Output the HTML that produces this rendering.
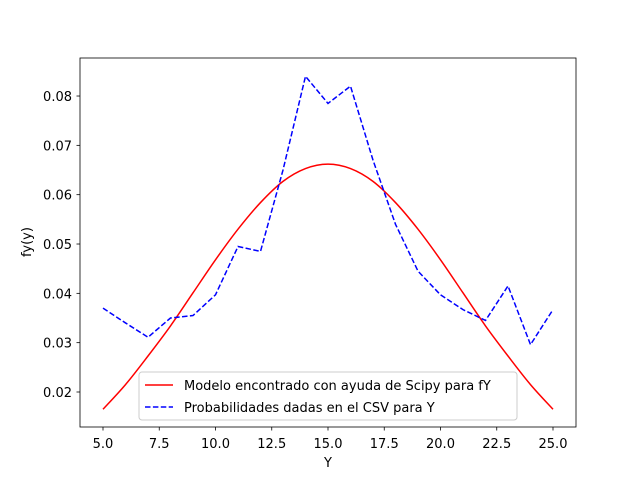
<!DOCTYPE html>
<html><head><meta charset="utf-8"><style>
body{margin:0;background:#fff}
svg{display:block;font-family:"DejaVu Sans","Liberation Sans",sans-serif}
</style></head><body>
<svg id="chart" width="640" height="480">
<rect x="80" y="58" width="496" height="369" fill="#fff" stroke="none"/>
<g id="grid"></g>
<path id="redline" fill="none" stroke="#ff0000" stroke-width="1.5"/>
<path id="blueline" fill="none" stroke="#0000ff" stroke-width="1.5" stroke-dasharray="5.5,2.4"/>
<rect x="80" y="58" width="496" height="369" fill="none" stroke="#000" stroke-width="0.8"/>
<text x="328" y="467" font-size="13" text-anchor="middle">Y</text>
<text transform="translate(31,242) rotate(-90)" font-size="13" text-anchor="middle">fy(y)</text>
<g>
<rect x="139" y="372" width="378" height="48" rx="3" fill="#fff" fill-opacity="0.8" stroke="#ccc"/>
<line x1="145" y1="385" x2="173" y2="385" stroke="#ff0000" stroke-width="1.5"/>
<text x="184" y="390" font-size="13">Modelo encontrado con ayuda de Scipy para fY</text>
<line x1="145" y1="407" x2="173" y2="407" stroke="#0000ff" stroke-width="1.5" stroke-dasharray="5.5,2.4"/>
<text x="184" y="412" font-size="13">Probabilidades dadas en el CSV para Y</text>
</g>
</svg>
<script>
const xs=[5,6,7,8,9,10,11,12,13,14,15,16,17,18,19,20,21,22,23,24,25];
const csvVals=[0.0370,0.0340,0.0311,0.0350,0.0355,0.0397,0.0495,0.0485,0.0650,0.0840,0.0785,0.0820,0.0670,0.0540,0.0445,0.0397,0.0367,0.0345,0.0415,0.0296,0.0367];
const modelVals=[0.0165,0.0215,0.0273,0.0334,0.0401,0.0468,0.0530,0.0584,0.0627,0.0653,0.0662,0.0653,0.0627,0.0584,0.0530,0.0468,0.0401,0.0334,0.0273,0.0215,0.0165];
const xTicks=[5.0,7.5,10.0,12.5,15.0,17.5,20.0,22.5,25.0];
const yTicks=[0.02,0.03,0.04,0.05,0.06,0.07,0.08];
const X=v=>103+(v-5)*22.5;
const Y=v=>392-(v-0.02)*4933;
const ns="http://www.w3.org/2000/svg";
const g=document.getElementById('grid');
function mk(t,a){const e=document.createElementNS(ns,t);for(const k in a)e.setAttribute(k,a[k]);g.appendChild(e);return e;}
xTicks.forEach(t=>{
 const l=mk('line',{x1:X(t),x2:X(t),y1:427,y2:430.5,stroke:'#000','stroke-width':0.8});
 
 
 const s=mk('text',{x:X(t),y:448,'font-size':13,'text-anchor':'middle'});s.textContent=t.toFixed(1);
 
 
});
yTicks.forEach(t=>{
 const l=mk('line',{x1:76.5,x2:80,y1:Y(t),y2:Y(t),stroke:'#000','stroke-width':0.8});
 
 
 const s=mk('text',{x:72,y:Y(t)+5,'font-size':13,'text-anchor':'end'});s.textContent=t.toFixed(2);
 
 
});
function path(vals){
 const p=xs.map((x,i)=>[X(x),Y(vals[i])]);
 let d='M'+p[0][0]+','+p[0][1];
 for(let i=0;i<p.length-1;i++){
  const p0=p[Math.max(i-1,0)],p1=p[i],p2=p[i+1],p3=p[Math.min(i+2,p.length-1)];
  d+=' C'+(p1[0]+(p2[0]-p0[0])/6)+','+(p1[1]+(p2[1]-p0[1])/6)+' '+(p2[0]-(p3[0]-p1[0])/6)+','+(p2[1]-(p3[1]-p1[1])/6)+' '+p2[0]+','+p2[1];
 }
 return d;
}
document.getElementById('redline').setAttribute('d',path(modelVals));
document.getElementById('blueline').setAttribute('d','M'+xs.map((x,i)=>X(x)+','+Y(csvVals[i])).join(' L'));
</script>
</body></html>
